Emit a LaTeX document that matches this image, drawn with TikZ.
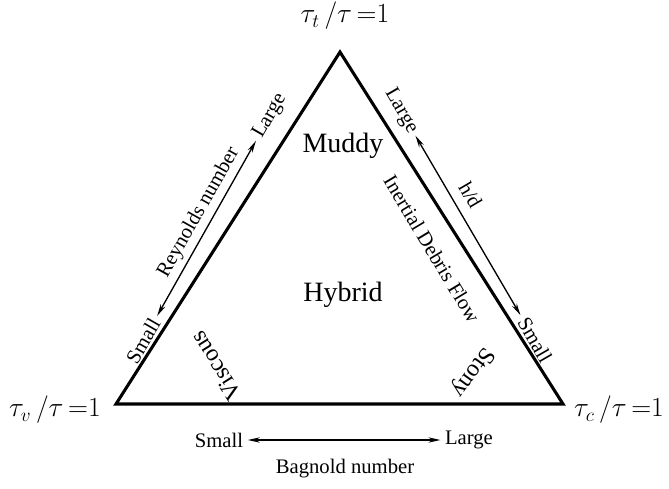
\documentclass[tikz,border=0pt]{standalone}
\usepackage{fontspec}
\setmainfont{Liberation Serif}
\usetikzlibrary{arrows.meta}
\begin{document}
\begin{tikzpicture}[
x=0.75pt, y=-0.75pt,
edge/.style={line width=2.3pt, line join=miter},
dual/.style={{Stealth[length=9pt,width=4pt]}-{Stealth[length=9pt,width=4pt]}, line width=1pt},
corner/.style={font=\fontsize{21}{24}\selectfont, inner sep=1pt},
regime/.style={font=\fontsize{21}{24}\selectfont},
lbl/.style={font=\fontsize{15.5}{18}\selectfont}
]
\useasboundingbox (0,0) rectangle (669,489);
\coordinate (top) at (340,52);
\coordinate (vl) at (116,404);
\coordinate (vr) at (563,404);
\draw[edge] (top) -- (vr) -- (vl) -- cycle;
\node[corner] (tt) at (345,16) {$\tau_t\,/\tau\,{=}1$};
\node[corner] (tv) at (55,410) {$\tau_v\,/\tau\,{=}1$};
\node[corner] (tc) at (619,410) {$\tau_c\,/\tau\,{=}1$};
\node[regime] (muddy) at (343,146) {Muddy};
\node[regime] (hybrid) at (343,295) {Hybrid};
\node[regime, font=\fontsize{18}{20}\selectfont, rotate=122] (viscous) at (216,366) {Viscous};
\node[regime, font=\fontsize{18}{20}\selectfont, rotate=-126] (stony) at (472,372) {Stony};
\node[lbl, rotate=60] (lsmall) at (143,341) {Small};
\node[lbl, rotate=60] (llarge) at (270,116) {Large};
\draw[dual] (lsmall) -- node[lbl, sloped, above, pos=0.55] (reynolds) {Reynolds number} (llarge);
\node[lbl, rotate=-60] (rlarge) at (401,111) {Large};
\node[lbl, rotate=-60] (rsmall) at (535,340) {Small};
\draw[dual] (rlarge) -- node[lbl, sloped, above=4pt, pos=0.38] (hd) {h/d} (rsmall);
\node[lbl, rotate=-59] (idf) at (432,249) {Inertial Debris Flow};
\node[lbl] (bsmall) at (219,440) {Small};
\node[lbl] (blarge) at (469,440) {Large};
\draw[dual] (bsmall) -- (blarge);
\node[lbl] (bagnold) at (345,469) {Bagnold number};
\end{tikzpicture}
\end{document}
